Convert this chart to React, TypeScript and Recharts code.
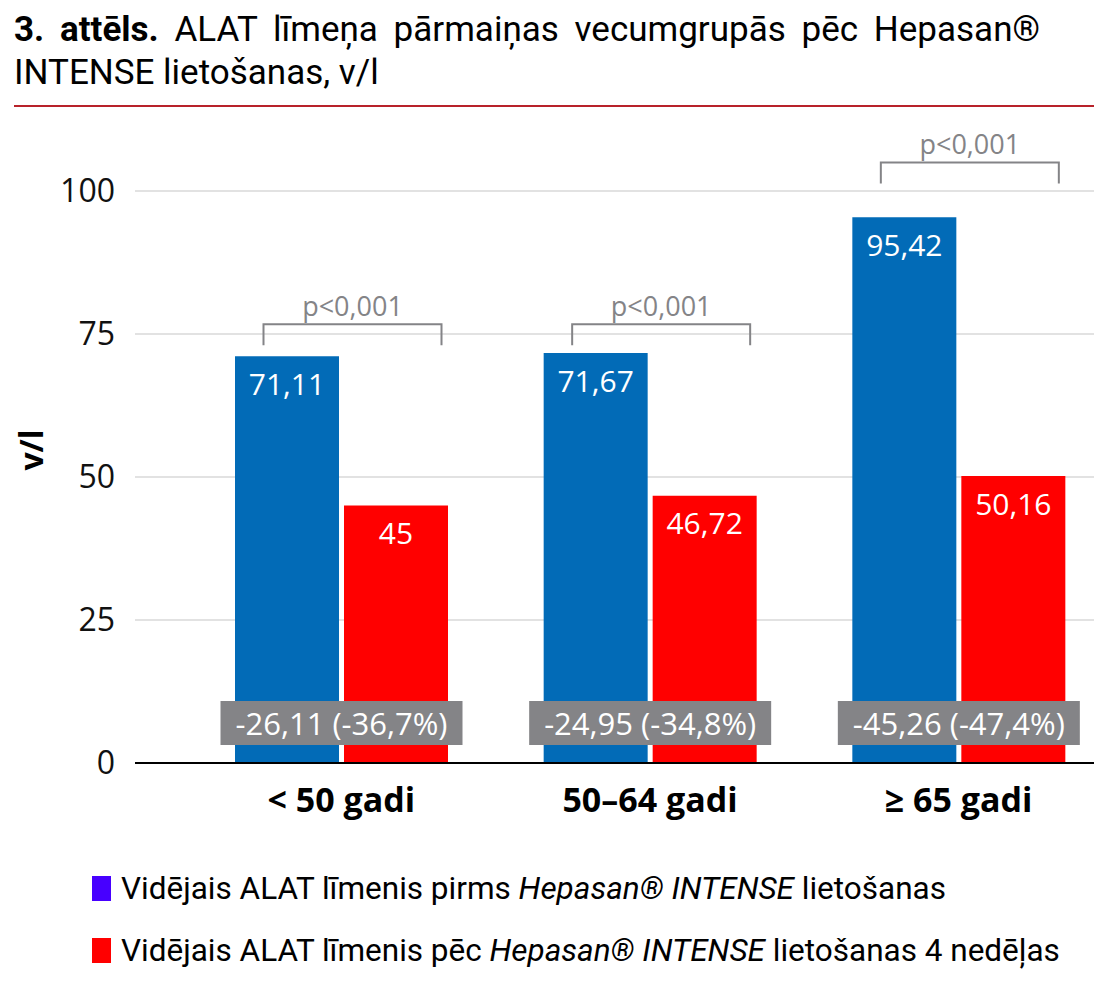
import { BarChart, Bar, XAxis, YAxis, CartesianGrid, LabelList } from 'recharts';

const categories = ['< 50 gadi', '50–64 gadi', '≥ 65 gadi'];
const beforeValues = [71.11, 71.67, 95.42];
const afterValues = [45, 46.72, 50.16];
const pLabels = ['p<0,001', 'p<0,001', 'p<0,001'];
// height of the significance bracket, in v/l
const bracketLevels = [76.7, 76.7, 105];
const yTicks = [0, 25, 50, 75, 100];

const data = categories.map((name, i) => ({
  name,
  before: beforeValues[i],
  after: afterValues[i],
}));

const BLUE = '#026bb7';
const RED = '#ff0000';
const GREY = '#848487';
const RULE = '#b8222a';
const FONT = '"Open Sans", Roboto, sans-serif';
const NARROW = 'Roboto, "Open Sans", sans-serif';
const BAR_SIZE = 104;
const BAR_GAP = 5;

const fmt = (v: number) => String(v).replace('.', ',');
const fmtFixed = (v: number, d: number) => v.toFixed(d).replace('.', ',');

const ValueLabel = (props: any) => {
  const { x, y, width, value } = props;
  return (
    <text
      x={x + width / 2}
      y={y + 27}
      textAnchor="middle"
      dominantBaseline="central"
      fill="#fff"
      fontSize={30}
      fontFamily={FONT}
    >
      {fmt(value)}
    </text>
  );
};

// drawn on the red series so it sits above both bars
const GroupAnnotation = (props: any) => {
  const { x, y, width, height, index, value } = props;
  const bottom = y + height;
  const unit = height / value;
  const center = x - BAR_GAP / 2;
  const by = bottom - bracketLevels[index] * unit;
  const diff = afterValues[index] - beforeValues[index];
  const pct = (diff / beforeValues[index]) * 100;
  const text = `${fmtFixed(diff, 2)} (${fmtFixed(pct, 1)}%)`;
  const left = center - 78;
  const right = center + 100;
  return (
    <g>
      <path
        d={`M${left},${by + 21} V${by} H${right} V${by + 21}`}
        fill="none"
        stroke={GREY}
        strokeWidth={2}
      />
      <text
        x={(left + right) / 2}
        y={by - 19}
        textAnchor="middle"
        dominantBaseline="central"
        fill={GREY}
        fontSize={27}
        fontFamily={FONT}
      >
        {pLabels[index]}
      </text>
      <rect x={center - 121} y={bottom - 62} width={242} height={44} fill={GREY} />
      <text
        x={center}
        y={bottom - 40}
        textAnchor="middle"
        dominantBaseline="central"
        fill="#fff"
        fontSize={31}
        fontFamily={FONT}
      >
        {text}
      </text>
    </g>
  );
};

const legendItems = [
  { color: '#4700ff', pre: 'Vidējais ALAT līmenis pirms ', tail: ' lietošanas' },
  { color: RED, pre: 'Vidējais ALAT līmenis pēc ', tail: ' lietošanas 4 nedēļas' },
];

export default function App() {
  return (
    <div
      style={{
        position: 'relative',
        width: 1102,
        height: 996,
        overflow: 'hidden',
        background: '#fff',
        margin: -8,
      }}
    >
      <div
        style={{
          position: 'absolute',
          left: 14,
          top: 8,
          width: 1026,
          fontFamily: NARROW,
          fontSize: 35,
          lineHeight: '43px',
          color: '#000',
          zIndex: 2,
        }}
      >
        <div style={{ textAlign: 'justify', textAlignLast: 'justify', whiteSpace: 'nowrap' }}>
          <b>3. attēls.</b> ALAT līmeņa pārmaiņas vecumgrupās pēc Hepasan®
        </div>
        <div>INTENSE lietošanas, v/l</div>
      </div>
      <div style={{ position: 'absolute', left: 14, right: 0, top: 105, height: 2, background: RULE }} />
      <div style={{ position: 'absolute', left: 14, right: 0, top: 992, height: 2, background: RULE }} />

      <div
        style={{
          position: 'absolute',
          left: 30,
          top: 450,
          transform: 'translate(-50%, -50%) rotate(-90deg)',
          fontFamily: FONT,
          fontWeight: 700,
          fontSize: 32,
          zIndex: 2,
        }}
      >
        v/l
      </div>

      <div style={{ position: 'absolute', left: 0, top: 0 }}>
        <BarChart
          width={1113}
          height={996}
          data={data}
          margin={{ top: 191, right: 0, bottom: 163, left: 35 }}
          barSize={BAR_SIZE}
          barGap={BAR_GAP}
        >
          <CartesianGrid vertical={false} stroke="#d9d9d9" strokeWidth={1.5} />
          <XAxis
            dataKey="name"
            padding={{ left: 52, right: 0 }}
            height={70}
            tickLine={false}
            tickMargin={19}
            axisLine={{ stroke: '#000', strokeWidth: 2 }}
            tick={{ fill: '#000', fontSize: 34, fontWeight: 700, fontFamily: FONT }}
          />
          <YAxis
            width={100}
            domain={[0, 100]}
            ticks={yTicks}
            axisLine={false}
            tickLine={false}
            tickMargin={14}
            tick={{ fill: '#111', fontSize: 32, fontFamily: FONT }}
          />
          <Bar dataKey="before" fill={BLUE} isAnimationActive={false}>
            <LabelList dataKey="before" content={ValueLabel} />
          </Bar>
          <Bar dataKey="after" fill={RED} isAnimationActive={false}>
            <LabelList dataKey="after" content={ValueLabel} />
            <LabelList dataKey="after" content={GroupAnnotation} />
          </Bar>
        </BarChart>
      </div>

      {legendItems.map((item, i) => (
        <div
          key={i}
          style={{
            position: 'absolute',
            left: 92,
            top: 872 + i * 62,
            height: 32,
            display: 'flex',
            alignItems: 'center',
            fontFamily: NARROW,
            fontSize: 31.5,
            color: '#000',
            whiteSpace: 'nowrap',
          }}
        >
          <span style={{ width: 19, height: 25, background: item.color, marginRight: 10 }} />
          <span>
            {item.pre}
            <i>Hepasan® INTENSE</i>
            {item.tail}
          </span>
        </div>
      ))}
    </div>
  );
}
